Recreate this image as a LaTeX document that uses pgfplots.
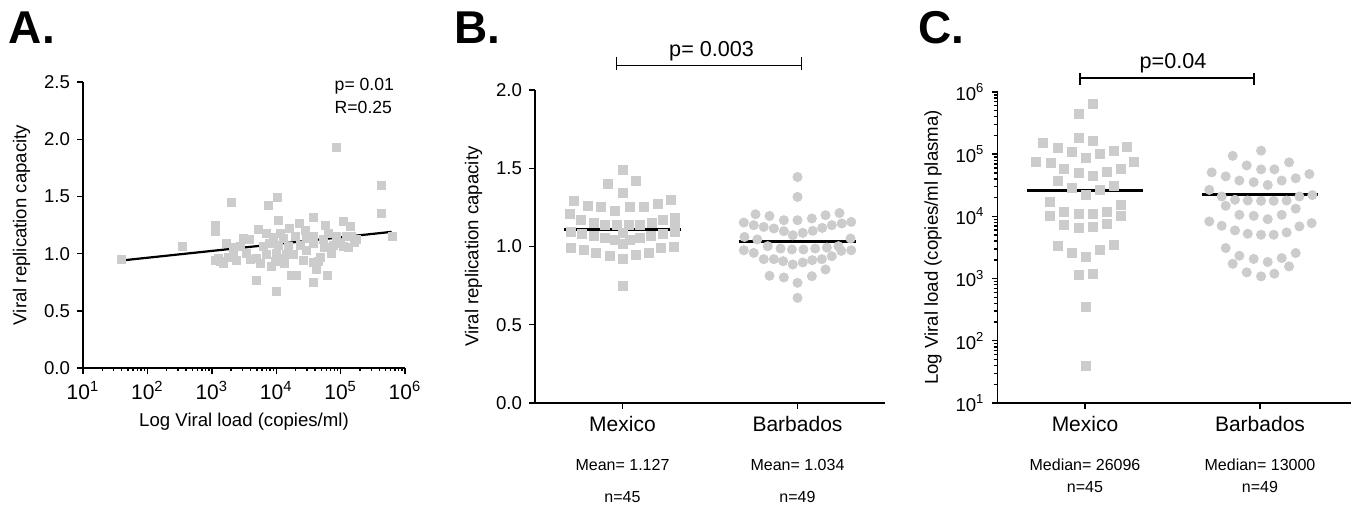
\documentclass[border=0pt]{standalone}
\usepackage{fontspec}
\setmainfont{Liberation Sans}
\usepackage{pgfplots}
\pgfplotsset{compat=1.18}
\definecolor{ptgray}{RGB}{204,204,204}

\tikzset{bracket/.style={line width=0.75pt}}
\pgfplotsset{
  panel/.style={
    scale only axis, clip=false, anchor=south west,
    axis x line*=bottom, axis y line*=left,
    axis line style={-, line width=0.9pt},
    tick align=outside,
    major tick length=3pt, minor tick length=1.6pt,
    every tick/.style={black, line width=0.7pt},
    tick label style={font=\fontsize{9.3}{10}\selectfont},
    label style={font=\fontsize{9.3}{10}\selectfont},
  },
  sq/.style={only marks, mark=square*, color=ptgray, mark size=2.25pt},
  ci/.style={only marks, mark=*, color=ptgray, mark size=2.3pt},
  meanline/.style={black, line width=1.5pt},
}

\begin{document}
\begin{tikzpicture}
\useasboundingbox (0,0) rectangle (677.5pt,252pt);

% panel letters
\node[font=\fontsize{23}{23}\selectfont\bfseries] at (16pt,238pt) {A.};
\node[font=\fontsize{23}{23}\selectfont\bfseries] at (238.5pt,238pt) {B.};
\node[font=\fontsize{23}{23}\selectfont\bfseries] at (470.5pt,238pt) {C.};

% ---------------- A ----------------
\begin{axis}[panel, at={(41.5pt,68pt)}, width=161pt, height=143pt,
  xmode=log, xmin=10, xmax=1e6, ymin=0, ymax=2.5,
  xtick={10,100,1000,10000,100000,1000000},
  xticklabels={10\textsuperscript{1},10\textsuperscript{2},10\textsuperscript{3},10\textsuperscript{4},10\textsuperscript{5},10\textsuperscript{6}},
  minor xtick={20,30,40,50,60,70,80,90,200,300,400,500,600,700,800,900,
    2000,3000,4000,5000,6000,7000,8000,9000,20000,30000,40000,50000,60000,70000,80000,90000,
    200000,300000,400000,500000,600000,700000,800000,900000},
  ytick={0,0.5,1,1.5,2,2.5}, yticklabels={0.0,0.5,1.0,1.5,2.0,2.5},
  x tick label style={font=\fontsize{10.5}{11}\selectfont},
  xlabel={Log Viral load (copies/ml)}, ylabel={Viral replication capacity}]
\addplot[sq, mark size=2pt] coordinates {
(40,0.95) (355,1.06) (85100,1.93) (427000,1.60) (427000,1.35) (631000,1.15)
(2040,1.45) (7590,1.42) (10500,1.49) (11000,1.29) (37200,1.32) (1120,1.25)
(1120,1.19) (1700,1.09) (1260,0.96) (1510,0.915) (2140,0.99) (2450,0.94)
(3090,1.13) (5010,0.77) (10200,0.67) (17400,0.81) (20900,0.81) (37200,0.75)
(63100,0.81) (41700,0.86) (5250,1.21) (7080,1.18) (11500,1.18) (16200,1.22)
(22900,1.26) (57500,1.25) (110000,1.28) (141000,1.24) (148000,1.15) (166000,1.10)
(110000,1.06) (77600,1.075) (72400,1.00) (47900,0.97) (44700,0.93) (29500,1.03)
(23400,1.075) (18600,0.99) (14500,0.99) (10200,1.00) (9550,0.93) (8510,0.885)
(5620,0.915) (5010,0.96) (12900,1.13) (29500,1.13) (38000,1.15) (64600,1.18)
(87100,1.15) (123000,1.15) (7940,1.09) (6310,1.06) (3890,1.12) (2750,1.06)
(2140,1.05) (1820,0.97) (1350,0.93) (1120,0.94) (3470,1.00) (15500,1.06)
(10700,1.075) (37200,1.09) (53700,1.12) (97700,1.09) (132000,1.05) (26300,0.94)
(37200,0.92) (6920,0.99) (12000,0.96) (13500,0.91) (8910,1.14) (20000,1.15)
(56200,1.05) (178000,1.12) (3980,0.95) (28200,1.20)
};
\addplot[black, line width=1.1pt] coordinates {(40,0.94) (620000,1.19)};
\node[anchor=west, font=\fontsize{8.8}{10}\selectfont] at (axis cs:63000,2.46) {p= 0.01};
\node[anchor=west, font=\fontsize{8.8}{10}\selectfont] at (axis cs:63000,2.28) {R=0.25};
\end{axis}

% ---------------- B ----------------
\begin{axis}[panel, at={(267.5pt,50.5pt)}, width=175pt, height=156.5pt,
  xmin=-0.5, xmax=1.5, ymin=0, ymax=2,
  xtick={0,1}, xticklabels={Mexico,Barbados},
  x tick label style={font=\fontsize{10.5}{12}\selectfont},
  ytick={0,0.5,1,1.5,2}, yticklabels={0.0,0.5,1.0,1.5,2.0},
  ylabel={Viral replication capacity}]
\addplot[sq] coordinates {
(0.00,1.487) (-0.084,1.402) (0.078,1.417) (0.00,1.345) (-0.278,1.291) (0.278,1.296)
(-0.198,1.257) (-0.122,1.253) (-0.042,1.225) (0.040,1.253) (0.122,1.253) (0.202,1.270)
(-0.303,1.206) (-0.236,1.172) (-0.164,1.151) (-0.099,1.136) (-0.032,1.136) (0.034,1.136)
(0.101,1.136) (0.168,1.151) (0.232,1.170) (0.301,1.181) (0.301,1.130)
(-0.297,1.093) (-0.230,1.083) (-0.164,1.066) (-0.099,1.055) (-0.042,1.040) (0.000,1.019)
(0.042,1.040) (0.099,1.055) (0.164,1.066) (0.230,1.083) (0.297,1.093)
(-0.297,0.993) (-0.221,0.976) (-0.150,0.959) (-0.074,0.938) (0.000,0.923) (0.074,0.949)
(0.149,0.959) (0.221,0.991) (0.293,0.997) (0.000,0.747) (0.000,1.09)
};
\addplot[ci] coordinates {
(1.00,1.444) (1.00,1.317) (0.76,1.206) (0.84,1.195) (0.922,1.168) (1.00,1.168)
(1.082,1.179) (1.16,1.200) (1.24,1.214) (0.693,1.153) (0.75,1.136) (0.807,1.125)
(0.865,1.115) (0.922,1.098) (0.973,1.072) (1.03,1.087) (1.087,1.100) (1.141,1.119)
(1.196,1.136) (1.253,1.147) (1.307,1.157) (0.697,1.061) (0.77,1.045) (1.303,1.051)
(0.693,0.976) (0.75,0.959) (0.83,1.002) (0.903,0.987) (0.968,0.981) (1.034,0.981)
(1.101,0.987) (1.168,0.993) (1.234,1.002) (1.25,0.972) (1.307,0.976) (0.807,0.919)
(0.865,0.919) (0.918,0.906) (0.973,0.885) (1.03,0.898) (1.084,0.913) (1.139,0.919)
(1.196,0.938) (0.84,0.813) (0.922,0.802) (1.082,0.810) (1.16,0.853) (1.00,0.768)
(1.00,0.672)
};
\addplot[meanline] coordinates {(-0.334,1.11) (0.334,1.11)};
\addplot[meanline] coordinates {(0.663,1.034) (1.337,1.034)};
\draw[bracket] (axis cs:-0.034,2.157) -- (axis cs:1.023,2.157);
\draw[bracket] (axis cs:-0.034,2.21) -- (axis cs:-0.034,2.127);
\draw[bracket] (axis cs:1.023,2.21) -- (axis cs:1.023,2.127);
\node[font=\fontsize{10.8}{12}\selectfont] at (axis cs:0.509,2.245) {p= 0.003};
\node[font=\fontsize{8}{9}\selectfont] at (axis cs:0,-0.396) {Mean= 1.127};
\node[font=\fontsize{8}{9}\selectfont] at (axis cs:0,-0.60) {n=45};
\node[font=\fontsize{8}{9}\selectfont] at (axis cs:1,-0.396) {Mean= 1.034};
\node[font=\fontsize{8}{9}\selectfont] at (axis cs:1,-0.60) {n=49};
\end{axis}

% ---------------- C ----------------
\begin{axis}[panel, at={(498.75pt,50.5pt)}, width=176.75pt, height=155.5pt,
  xmin=-0.5, xmax=1.52, ymode=log, ymin=10, ymax=1e6,
  xtick={0,1}, xticklabels={Mexico,Barbados},
  x tick label style={font=\fontsize{10.5}{12}\selectfont},
  ytick={10,100,1000,10000,100000,1000000},
  yticklabels={10\textsuperscript{1},10\textsuperscript{2},10\textsuperscript{3},10\textsuperscript{4},10\textsuperscript{5},10\textsuperscript{6}},
  minor ytick={20,30,40,50,60,70,80,90,200,300,400,500,600,700,800,900,
    2000,3000,4000,5000,6000,7000,8000,9000,20000,30000,40000,50000,60000,70000,80000,90000,
    200000,300000,400000,500000,600000,700000,800000,900000},
  ylabel={Log Viral load (copies/ml plasma)}]
\addplot[sq] coordinates {
(0.044,640000) (-0.036,440000) (-0.036,180000) (0.044,163000)
(-0.238,150000) (-0.156,125000) (-0.076,110000) (0.004,88000) (0.086,100000) (0.166,114000) (0.242,132000)
(-0.28,74000) (-0.196,73000) (-0.118,57000) (-0.036,49500) (0.044,45000) (0.124,51000) (0.204,58000) (0.282,74000)
(-0.156,37700) (-0.076,28400) (0.004,22200) (0.086,26700) (0.166,31000)
(-0.2,17300) (0.204,15300)
(-0.2,10300) (-0.118,11700) (-0.036,10900) (0.044,10900) (0.124,11600) (0.204,10300)
(-0.118,7300) (-0.036,6500) (0.044,6700) (0.124,7600)
(-0.156,3370) (-0.076,2630) (0.004,2220) (0.086,2900) (0.166,3500)
(-0.036,1130) (0.044,1190) (0.004,350) (0.004,40)
};
\addplot[ci] coordinates {
(1.006,114000) (0.844,94000) (0.924,66000) (1.006,57000) (1.082,57000) (1.166,74000)
(0.724,51000) (0.804,44000) (0.882,37700) (0.964,35500) (1.044,32000) (1.124,37700) (1.204,41000) (1.282,48000)
(0.71,26700) (0.781,20900) (0.857,18500) (0.93,18000) (1.006,17800) (1.078,17800) (1.152,18000) (1.225,20900) (1.299,22000)
(0.804,14800) (0.882,10600) (0.964,10200) (1.044,9000) (1.124,10600) (1.204,13300)
(0.71,8300) (0.781,7060) (0.857,5950) (0.93,5260) (1.006,5070) (1.078,5070) (1.152,5520) (1.225,6900) (1.295,7800)
(0.804,3100) (0.882,2330) (0.844,1730) (0.964,2070) (1.044,1850) (1.124,2140) (1.204,2580)
(1.166,1570) (0.924,1260) (1.006,1085) (1.082,1200)
};
\addplot[meanline] coordinates {(-0.331,26300) (0.331,26300)};
\addplot[meanline] coordinates {(0.669,22500) (1.331,22500)};
\draw[bracket] (axis cs:-0.029,1.68e6) -- (axis cs:0.966,1.68e6);
\draw[bracket] (axis cs:-0.029,2.02e6) -- (axis cs:-0.029,1.3e6);
\draw[bracket] (axis cs:0.966,2.02e6) -- (axis cs:0.966,1.3e6);
\node[font=\fontsize{10.8}{12}\selectfont] at (axis cs:0.503,2.92e6) {p=0.04};
\node[font=\fontsize{8}{9}\selectfont] at (axis cs:0,1.03) {Median= 26096};
\node[font=\fontsize{8}{9}\selectfont] at (axis cs:0,0.44) {n=45};
\node[font=\fontsize{8}{9}\selectfont] at (axis cs:1,1.03) {Median= 13000};
\node[font=\fontsize{8}{9}\selectfont] at (axis cs:1,0.44) {n=49};
\end{axis}
\end{tikzpicture}
\end{document}
